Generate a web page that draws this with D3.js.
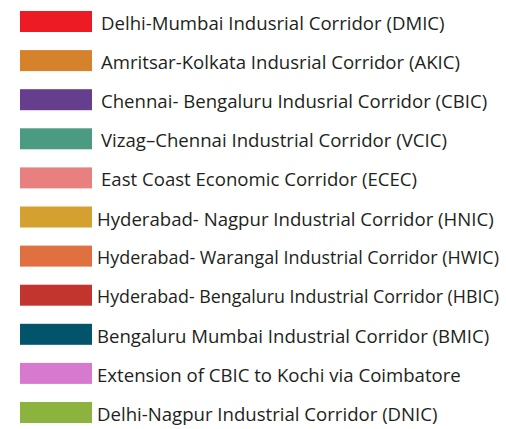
<!DOCTYPE html>
<meta charset="utf-8">
<style>
body { margin: 0; background: #fff; }
.label { font: 18.6px "Open Sans", sans-serif; fill: #231f20; }
</style>
<svg width="506" height="429"></svg>
<script src="https://cdn.jsdelivr.net/npm/d3@7"></script>
<script>
// corridor legend

var corridors = [
  "Delhi-Mumbai Indusrial Corridor (DMIC)",
  "Amritsar-Kolkata Indusrial Corridor (AKIC)",
  "Chennai- Bengaluru Indusrial Corridor (CBIC)",
  "Vizag\u2013Chennai Industrial Corridor (VCIC)",
  "East Coast Economic Corridor (ECEC)",
  "Hyderabad- Nagpur Industrial Corridor (HNIC)",
  "Hyderabad- Warangal Industrial Corridor (HWIC)",
  "Hyderabad- Bengaluru Industrial Corridor (HBIC)",
  "Bengaluru Mumbai Industrial Corridor (BMIC)",
  "Extension of CBIC to Kochi via Coimbatore",
  "Delhi-Nagpur Industrial Corridor (DNIC)"
];

var colours = ["#ed1c24", "#d6822b", "#663e8e", "#4a9b82", "#e98080",
  "#d4a030", "#e07040", "#c2352f", "#02546a", "#d77acf", "#8db33f"];

var fontSize = 18.6;

var svg = d3.select("svg"),
    width = +svg.attr("width");

var y = d3.scalePoint().domain(corridors).range([11, 402]),
    z = d3.scaleOrdinal().domain(corridors).range(colours);

var row = svg.selectAll(".row")
  .data(corridors)
  .enter().append("g")
    .attr("class", "row")
    .attr("transform", function(d) { return "translate(0," + y(d) + ")"; });

row.append("rect")
    .attr("x", 20)
    .attr("width", 72)
    .attr("height", 21)
    .attr("fill", function(d) { return z(d); });

// lower half of the legend sits a little further left in the original
row.append("text")
    .attr("class", "label")
    .attr("x", function(d, i) { return i < 5 ? 101 : 97; })
    .attr("y", 12.5)
    .attr("dy", "0.35em")
    .text(function(d) { return d; })
    .each(function() {
      // shrink the long ones so they stay inside the frame
      var t = d3.select(this),
          room = width - 7 - (+t.attr("x")),
          len = this.getComputedTextLength();
      if (len > room) t.style("font-size", (fontSize * room / len) + "px");
    });
</script>
